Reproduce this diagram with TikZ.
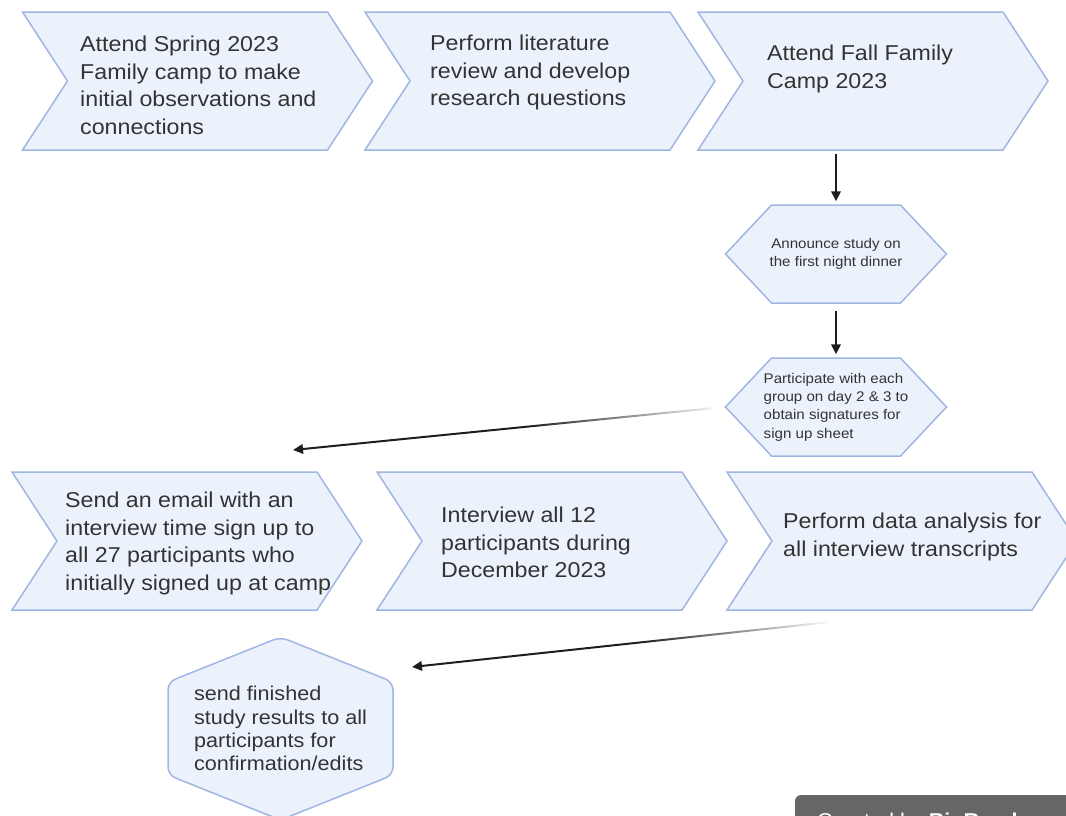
\documentclass[tikz,border=0pt]{standalone}
\usepackage{fontspec}
\setmainfont{Liberation Sans}[FakeStretch=1.08]
\usetikzlibrary{
    arrows.meta,
    shapes.symbols,
    fadings
}

\definecolor{stepfill}{RGB}{236,242,252}
\definecolor{stepline}{RGB}{160,182,226}
\definecolor{inkgray}{RGB}{51,51,51}
\definecolor{arrowink}{RGB}{30,30,30}
\definecolor{badgegray}{RGB}{102,102,102}

\pgfdeclarehorizontalshading{tailshade}{100bp}{
color(0bp)=(transparent!0);
color(25bp)=(transparent!0);
color(52bp)=(transparent!0);
color(75bp)=(transparent!100);
color(100bp)=(transparent!100)}
\tikzfading[name=tailfade, shading=tailshade]

\begin{document}
\begin{tikzpicture}[
x=1pt, y=-1pt,
chevron/.style={
signal, signal from=west, signal to=east,
signal pointer angle=113.8,
draw=stepline, fill=stepfill, line width=1.5pt,
minimum width=350pt, minimum height=138pt, inner sep=0pt
},
hexbox/.style={
signal, signal to=west and east,
signal pointer angle=93.6,
draw=stepline, fill=stepfill, line width=1.5pt,
minimum width=221pt, minimum height=98pt, inner sep=0pt
},
tallhex/.style={
signal, signal to=north and south,
signal pointer angle=136.4, rounded corners=8pt,
draw=stepline, fill=stepfill, line width=1.5pt,
minimum width=225pt, minimum height=93pt, inner sep=0pt
},
steptext/.style={
font=\fontsize{21.5}{27.5}\selectfont,
text=inkgray, align=left, inner sep=0pt,
anchor=north west
},
hextext/.style={
font=\fontsize{14}{17.5}\selectfont,
text=inkgray, inner sep=0pt
},
flow/.style={
-{Triangle[length=10pt,width=9.5pt]},
line width=2pt, draw=arrowink
},
fadeflow/.style={flow, path fading=tailfade}
]

\useasboundingbox (0,0) rectangle (1066,815);
\clip (0,0) rectangle (1066,815);

% top row
\node[chevron] (spring) at (197.5,81) {};
\node[chevron] (review) at (540,81) {};
\node[chevron] (fallcamp) at (873,81) {};

\node[steptext] (springtxt) at (80,36)
{Attend Spring 2023\\Family camp to make\\initial observations and\\connections};
\node[steptext] (reviewtxt) at (430,35)
{Perform literature\\review and develop\\research questions};
\node[steptext] (fallcamptxt) at (767,45)
{Attend Fall Family\\Camp 2023};

% recruiting at camp
\node[hexbox] (announce) at (836,254) {};
\node[hextext, align=center] (announcetxt) at (announce)
{Announce study on\\the first night dinner};

\node[hexbox] (signup) at (836,407) {};
\node[hextext, align=left, font=\fontsize{14}{18.3}\selectfont]
(signuptxt) at (signup)
{Participate with each\\group on day 2 \& 3 to\\obtain signatures for\\sign up sheet};

% bottom row
\node[chevron] (email) at (187,541) {};
\node[chevron] (interview) at (552,541) {};
\node[chevron] (analysis) at (902,541) {};

\node[steptext] (emailtxt) at (65,492)
{Send an email with an\\interview time sign up to\\all 27 participants who\\initially signed up at camp};
\node[steptext] (interviewtxt) at (441,507)
{Interview all 12\\participants during\\December 2023};
\node[steptext] (analysistxt) at (783,513)
{Perform data analysis for\\all interview transcripts};

% last step
\node[tallhex] (results) at (280.5,728.5) {};
\node[hextext, align=left, font=\fontsize{20}{23.3}\selectfont]
(resultstxt) at (results)
{send finished\\study results to all\\participants for\\confirmation/edits};

% connectors
\coordinate (emailin) at (293,450);
\coordinate (analysisout) at (830,622);
\coordinate (resultsin) at (412,667);

\draw[flow, shorten <=3pt, shorten >=3pt]
(announce.north |- fallcamp.south) -- (announce.north);
\draw[flow, shorten <=7pt, shorten >=3pt]
(announce.south) -- (signup.north);
\draw[fadeflow, shorten <=13pt] (signup.west) -- (emailin);
\draw[fadeflow] (analysisout) -- (resultsin);

% badge
\fill[badgegray, rounded corners=6pt] (795,795) rectangle (1100,860);
\node[anchor=base west, inner sep=0pt, text=white,
font=\fontsize{20}{24}\selectfont] (badge) at (817,827)
{Created by \textbf{BioRender}};

\end{tikzpicture}
\end{document}
